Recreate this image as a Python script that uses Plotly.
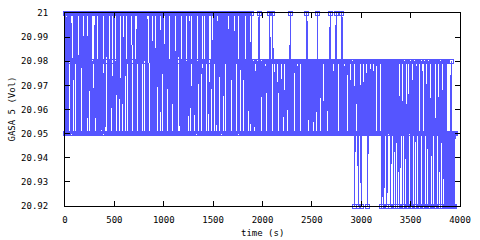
import plotly.graph_objects as go

# Sampled every 5 s starting at t = 0; code -> level
level_values = [20.92, 20.95, 20.98, 21.0]
codes_0_1895 = (
    "31312131323131113321" "32313131213133313211" "31313221323131312111"
    "33213121313132313111" "31323331312131321131" "31213231313111313321"
    "31321132313131213331" "31211132313131213321" "32313131113331313121"
    "31312133213132213231" "31113132313121313331" "31321131333231312131"
    "32313121313321311131" "31333131213231313211" "31213132313111213321"
    "31323131113133313121" "32213231313121313321" "31311132313121333131"
    "32313121313321321131"
)
codes_1900_2895 = (
    "12121112121213121222" "12111212221212131212" "23121112121222121211"
    "21211121212221213121" "21212221211121212221" "21211121213212221212"
    "12122212121131212221" "21211121212221212312" "12111212131212221212"
    "13121211121222121211"
)
codes_2900_3950 = (
    "12121210212221021211" "02121112121220121212" "21211121212221212111"
    "12021202121201212122" "02121202120212012101" "21210212012102010212"
    "02010212012102120101" "02120101021201210202" "01210212020102120121"
    "02120121020202010101" "01201010101"
)
state_codes = codes_0_1895 + codes_1900_2895 + codes_2900_3950
time_step = 5
times = [i * time_step for i in range(len(state_codes))]
values = [level_values[int(c)] for c in state_codes]

x_ticks = [0, 500, 1000, 1500, 2000, 2500, 3000, 3500, 4000]
y_ticks = [20.92, 20.93, 20.94, 20.95, 20.96, 20.97, 20.98, 20.99, 21.0]
y_tick_text = ["20.92", "20.93", "20.94", "20.95", "20.96", "20.97", "20.98", "20.99", "21"]

blue = "#5555ff"
font = dict(family="DejaVu Sans Mono", size=9, color="black")

fig = go.Figure(go.Scatter(
    x=times, y=values, mode="lines+markers",
    line=dict(color=blue, width=1),
    marker=dict(symbol="square-open", size=4, color=blue, line=dict(width=1, color=blue)),
    cliponaxis=False, showlegend=False,
))

axis_common = dict(showline=True, linecolor="black", linewidth=1, mirror="ticks",
                   ticks="inside", ticklen=5, tickcolor="black", showgrid=False,
                   zeroline=False, tickfont=font, automargin=False)

fig.update_xaxes(range=[0, 4000], tickvals=x_ticks, ticklabelstandoff=5, **axis_common)
fig.update_yaxes(range=[20.92, 21.0], tickvals=y_ticks, ticktext=y_tick_text,
                 ticklabelstandoff=14, **axis_common)

fig.update_layout(
    width=480, height=240, margin=dict(l=65, r=20, t=13, b=34),
    paper_bgcolor="white", plot_bgcolor="white", font=font,
    annotations=[
        dict(text="time (s)", xref="paper", yref="paper", x=0.5, y=0,
             yshift=-27, yanchor="middle", showarrow=False, font=font),
        dict(text="GASA 5 (Vol)", xref="paper", yref="paper", x=0, y=0.5,
             xshift=-54, xanchor="center", yanchor="middle", textangle=-90,
             showarrow=False, font=font),
    ],
)

crisp = ("document.querySelectorAll('.scatterlayer path').forEach(function(p){"
         "p.setAttribute('shape-rendering','crispEdges');});")
fig.write_html("out.html", post_script=crisp)
